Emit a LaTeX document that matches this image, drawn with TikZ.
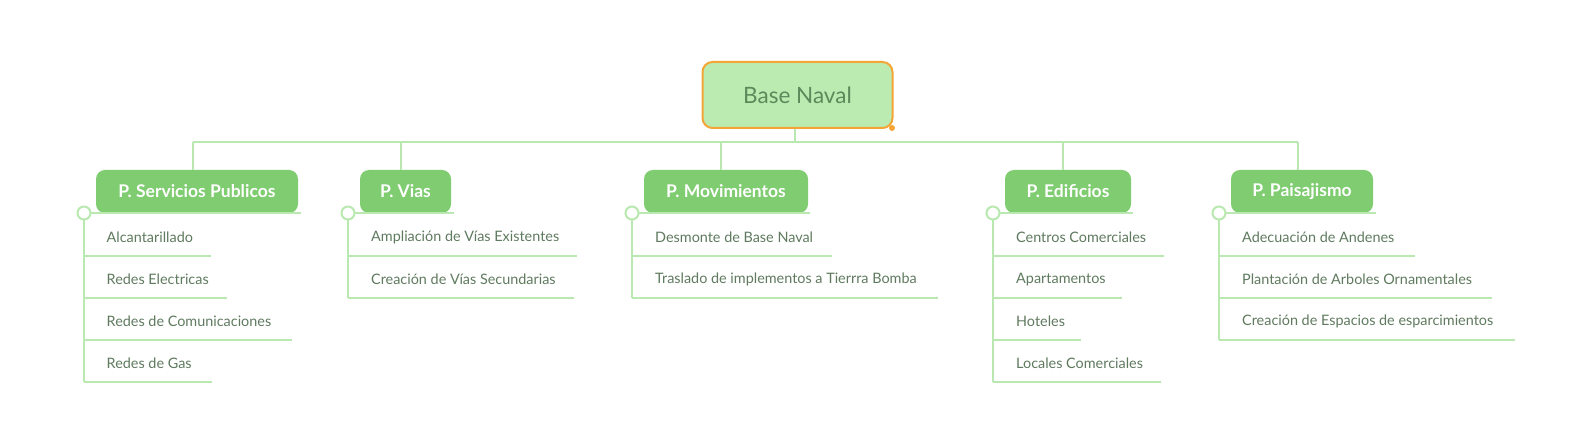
\documentclass[tikz,border=0pt]{standalone}
\usepackage{fontspec}
\setmainfont{Lato}
\definecolor{lnk}{HTML}{B9E8B0}
\definecolor{topg}{HTML}{7FCC71}
\definecolor{rootf}{HTML}{BBEBB0}
\definecolor{rooto}{HTML}{F5A536}
\definecolor{rtext}{HTML}{5B8A5B}
\definecolor{ctext}{HTML}{5F7A5F}
\begin{document}
\begin{tikzpicture}[x=1pt,y=-1pt,
 link/.style={draw=lnk,line width=2pt},
 rootbox/.style={draw=rooto,line width=2pt,fill=rootf,rounded corners=10pt,minimum width=190pt,minimum height=66pt,inner sep=0pt,text=rtext,font=\fontsize{22.5}{26}\selectfont},
 topbox/.style={fill=topg,rounded corners=9pt,minimum height=43pt,inner sep=0pt,text=white,font=\bfseries\fontsize{17.5}{20}\selectfont},
 leaf/.style={anchor=west,inner sep=0pt,text=ctext,font=\fontsize{14.4}{16}\selectfont},
 knob/.style={draw=lnk,line width=2pt,fill=white,circle,minimum size=13pt,inner sep=0pt}]
\path[use as bounding box,fill=white] (0,0) rectangle (1593,443);

% root
\node[rootbox] (root) at (797.5,95) {Base Naval};
\fill[rooto] (892,128) circle (3pt);

% bar
\coordinate (rj) at (795,142);
\coordinate (j1) at (193,142);
\coordinate (j2) at (401,142);
\coordinate (j3) at (721,142);
\coordinate (j4) at (1063,142);
\coordinate (j5) at (1298,142);
\draw[link] (rj) -- (rj |- root.south);
\draw[link] (j1) -- (j5);

% top nodes
\node[topbox,minimum width=202pt] (n1) at (197,191.5) {P. Servicios Publicos};
\node[topbox,minimum width=91pt] (n2) at (405.5,191.5) {P. Vias};
\node[topbox,minimum width=164pt] (n3) at (726,191.5) {P. Movimientos};
\node[topbox,minimum width=126pt] (n4) at (1068,191.5) {P. Edificios};
\node[topbox,minimum width=142pt] (n5) at (1302,191.5) {P. Paisajismo};
\foreach \k in {1,...,5}{\draw[link] (j\k) -- (j\k |- n\k.north);}

% knob coordinates
\coordinate (k1) at (84,213);
\coordinate (k2) at (348,213);
\coordinate (k3) at (632,213);
\coordinate (k4) at (993,213);
\coordinate (k5) at (1219,213);

% underlines of top nodes
\draw[link] (k1) -- (301,213);
\draw[link] (k2) -- (454,213);
\draw[link] (k3) -- (810,213);
\draw[link] (k4) -- (1133,213);
\draw[link] (k5) -- (1376,213);

% group 1
\foreach \t/\e [count=\i] in {{Alcantarillado}/211,{Redes Electricas}/227,{Redes de Comunicaciones}/292,{Redes de Gas}/212}{
 \node[leaf] (a\i) at (106.5,{237.5+42*(\i-1)}) {\t};
 \draw[link] (84,{256+42*(\i-1)}) -- (\e,{256+42*(\i-1)});
}
\draw[link] (k1) -- (84,382);

% group 2
\foreach \t/\e [count=\i] in {{Ampliación de Vías Existentes}/577,{Creación de Vías Secundarias}/574}{
 \node[leaf] (b\i) at (371,{237.5+42*(\i-1)}) {\t};
 \draw[link] (348,{256+42*(\i-1)}) -- (\e,{256+42*(\i-1)});
}
\draw[link] (k2) -- (348,298);

% group 3
\foreach \t/\e [count=\i] in {{Desmonte de Base Naval}/832,{Traslado de implementos a Tierrra Bomba}/938}{
 \node[leaf] (c\i) at (655,{237.5+42*(\i-1)}) {\t};
 \draw[link] (632,{256+42*(\i-1)}) -- (\e,{256+42*(\i-1)});
}
\draw[link] (k3) -- (632,298);

% group 4
\foreach \t/\e [count=\i] in {{Centros Comerciales}/1164,{Apartamentos}/1122,{Hoteles}/1081,{Locales Comerciales}/1161}{
 \node[leaf] (d\i) at (1016,{237.5+42*(\i-1)}) {\t};
 \draw[link] (993,{256+42*(\i-1)}) -- (\e,{256+42*(\i-1)});
}
\draw[link] (k4) -- (993,382);

% group 5
\foreach \t/\e [count=\i] in {{Adecuación de Andenes}/1415,{Plantación de Arboles Ornamentales}/1492,{Creación de Espacios de esparcimientos}/1515}{
 \node[leaf] (e\i) at (1242,{237.5+42*(\i-1)}) {\t};
 \draw[link] (1219,{256+42*(\i-1)}) -- (\e,{256+42*(\i-1)});
}
\draw[link] (k5) -- (1219,340);

% knobs
\foreach \k in {1,...,5}{\node[knob] (kn\k) at (k\k) {};}
\end{tikzpicture}
\end{document}
